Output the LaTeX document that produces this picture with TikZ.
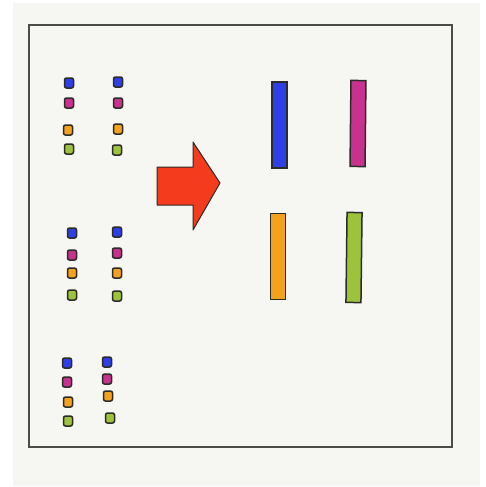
\documentclass[tikz,border=0pt]{standalone}
\usepackage{xcolor}
\usepackage{tikz}
\usetikzlibrary{positioning}
\definecolor{paper}{HTML}{F6F6F3}
\definecolor{ink}{HTML}{2B2B28}
\definecolor{cblue}{HTML}{2E3FE8}
\definecolor{cmag}{HTML}{C9318F}
\definecolor{corange}{HTML}{F4A11E}
\definecolor{cgreen}{HTML}{9DC23C}
\definecolor{cred}{HTML}{F43B1E}

\begin{document}
\begin{tikzpicture}[
  x=1pt,y=-1pt,
  frame/.style={draw=ink!85,line width=1.6pt},
  cell/.style={draw=ink,line width=1.5pt,rounded corners=2pt,minimum width=9pt,minimum height=10pt,inner sep=0pt},
  bar/.style={draw=ink,line width=1.5pt,minimum width=15pt,minimum height=86pt,inner sep=0pt}
]
\useasboundingbox (0,0) rectangle (485,487);
\fill[white] (0,0) rectangle (485,487);
\fill[paper] (13,3) rectangle (480,486);
\draw[frame] (29,25) rectangle (452,447);
% small cells, three groups of two columns
\foreach \n/\x/\y/\c in {
  ga1/69/83/cblue, ga2/69/103/cmag, ga3/68/130/corange, ga4/69/149/cgreen,
  gb1/118/82/cblue, gb2/118/103/cmag, gb3/118/129/corange, gb4/117/150/cgreen,
  gc1/72/233/cblue, gc2/72/255/cmag, gc3/72/273/corange, gc4/72/295/cgreen,
  gd1/117/232/cblue, gd2/117/253/cmag, gd3/117/273/corange, gd4/117/296/cgreen,
  ge1/67/363/cblue, ge2/67/382/cmag, ge3/68/402/corange, ge4/68/421/cgreen,
  gf1/107/362/cblue, gf2/107/379/cmag, gf3/108/396/corange, gf4/110/418/cgreen}
  \node[cell,fill=\c] (\n) at (\x,\y) {};
% big arrow
\filldraw[fill=cred,draw=ink,line width=1pt,line join=round]
  (157,167) -- (193,167) -- (193,142) -- (220,183) -- (193,230) -- (193,205) -- (157,205) -- cycle;
% bars
\node[bar,fill=cblue] (blue) at (279.5,125) {};
\node[bar,fill=cmag,rotate=-0.6] (mag) at (358,123.5) {};
\node[bar,fill=corange] (orange) at (278,256.5) {};
\node[bar,fill=cgreen,minimum height=90pt,rotate=-0.7] (green) at (354,257.5) {};
\end{tikzpicture}
\end{document}
